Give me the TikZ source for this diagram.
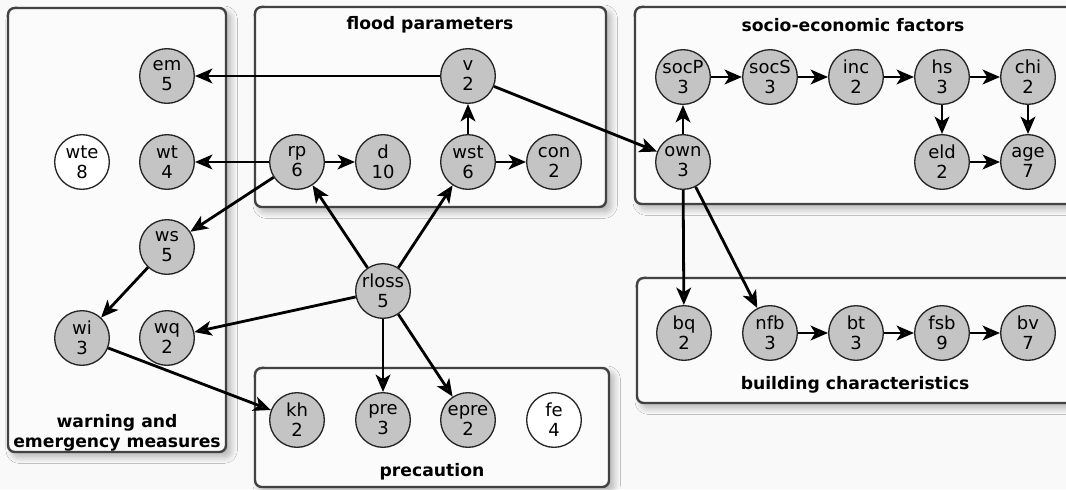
\documentclass[tikz,border=0pt]{standalone}
\usepackage{fontspec}
\setmainfont{DejaVu Sans}
\usetikzlibrary{arrows.meta,shadows.blur}
\definecolor{nodegray}{HTML}{C4C4C4}
\definecolor{boxline}{HTML}{424242}
\definecolor{boxfill}{HTML}{FBFBFB}
\definecolor{pagebg}{HTML}{F9F9F9}
\begin{document}
\begin{tikzpicture}[x=0.75pt,y=-0.75pt,
  var/.style={circle,draw=black!85,line width=1pt,fill=nodegray,minimum size=41pt,
    inner sep=0pt,align=center,font=\fontsize{13.5}{15}\selectfont},
  free/.style={var,fill=white},
  group/.style={draw=boxline,line width=1.8pt,rounded corners=5pt,fill=boxfill,
    blur shadow={shadow xshift=3.5pt,shadow yshift=-3.5pt,shadow blur radius=5pt,shadow blur steps=10,shadow opacity=30}},
  title/.style={font=\bfseries\fontsize{12.9}{15}\selectfont,align=center},
  edge/.style={-{Stealth[length=13pt,width=11pt,inset=3.4pt]},line width=2.1pt}
]
\clip (0,0) rectangle (1066,489);
\fill[pagebg] (0,0) rectangle (1066,489);

% groups
\draw[group] (8,8) rectangle (226,452);
\draw[group] (255,7) rectangle (606,207);
\draw[group] (635,7) rectangle (1085,204);
\draw[group] (255,368) rectangle (609,487);
\draw[group] (637,278) rectangle (1085,403);

% group titles
\node[title] (tflood) at (430,25) {flood parameters};
\node[title] (tsocio) at (853,25) {socio-economic factors};
\node[title] (twarn) at (117,433) {warning and\\emergency measures};
\node[title] (tprec) at (432,472) {precaution};
\node[title] (tbuild) at (855,385) {building characteristics};

% warning and emergency measures
\node[var] (em) at (167,76) {em\\5};
\node[free] (wte) at (82,162) {wte\\8};
\node[var] (wt) at (167,162) {wt\\4};
\node[var] (ws) at (167,247) {ws\\5};
\node[var] (wi) at (82,338) {wi\\3};
\node[var] (wq) at (167,338) {wq\\2};

% flood parameters
\node[var] (v) at (468,76) {v\\2};
\node[var] (rp) at (297,162) {rp\\6};
\node[var] (d) at (383,162) {d\\10};
\node[var] (wst) at (468,162) {wst\\6};
\node[var] (con) at (554,162) {con\\2};

% socio-economic factors
\node[var] (socP) at (683,77) {socP\\3};
\node[var] (socS) at (770,77) {socS\\3};
\node[var] (inc) at (856,77) {inc\\2};
\node[var] (hs) at (942,77) {hs\\3};
\node[var] (chi) at (1028,77) {chi\\2};
\node[var] (own) at (683,162) {own\\3};
\node[var] (eld) at (942,162) {eld\\2};
\node[var] (age) at (1028,162) {age\\7};

% relative loss
\node[var] (rloss) at (383,291) {rloss\\5};

% precaution
\node[var] (kh) at (297,420) {kh\\2};
\node[var] (pre) at (383,420) {pre\\3};
\node[var] (epre) at (468,420) {epre\\2};
\node[free] (fe) at (554,420) {fe\\4};

% building characteristics
\node[var] (bq) at (684,333) {bq\\2};
\node[var] (nfb) at (770,333) {nfb\\3};
\node[var] (bt) at (856,333) {bt\\3};
\node[var] (fsb) at (942,333) {fsb\\9};
\node[var] (bv) at (1028,333) {bv\\7};

% dependencies
\draw[edge] (v) -- (em);
\draw[edge] (v) -- (own);
\draw[edge] (rp) -- (wt);
\draw[edge] (rp) -- (d);
\draw[edge] (rp) -- (ws);
\draw[edge] (wst) -- (v);
\draw[edge] (wst) -- (con);
\draw[edge] (rloss) -- (rp);
\draw[edge] (rloss) -- (wst);
\draw[edge] (rloss) -- (wq);
\draw[edge] (rloss) -- (pre);
\draw[edge] (rloss) -- (epre);
\draw[edge] (ws) -- (wi);
\draw[edge] (wi) -- (kh);
\draw[edge] (own) -- (socP);
\draw[edge] (own) -- (bq);
\draw[edge] (own) -- (nfb);
\draw[edge] (socP) -- (socS);
\draw[edge] (socS) -- (inc);
\draw[edge] (inc) -- (hs);
\draw[edge] (hs) -- (chi);
\draw[edge] (hs) -- (eld);
\draw[edge] (chi) -- (age);
\draw[edge] (eld) -- (age);
\draw[edge] (nfb) -- (bt);
\draw[edge] (bt) -- (fsb);
\draw[edge] (fsb) -- (bv);
\end{tikzpicture}
\end{document}
